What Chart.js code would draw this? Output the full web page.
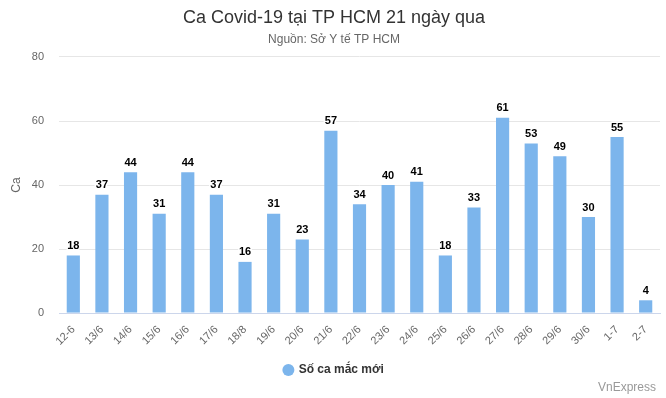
<!DOCTYPE html>
<html>
<head>
<meta charset="utf-8">
<script src="https://cdn.jsdelivr.net/npm/chart.js@4"></script>
<style>
  html, body { margin: 0; padding: 0; background: #fff; }
  #wrap { position: relative; width: 666px; height: 398px; }
  #credit { position: absolute; right: 10px; bottom: 4px; font: 12px "Liberation Sans", Arial, sans-serif; color: #999; }
</style>
</head>
<body>
<div id="wrap">
  <canvas id="caseChart" width="666" height="398"></canvas>
  <div id="credit">VnExpress</div>
</div>
<script>
const days = ['12-6', '13/6', '14/6', '15/6', '16/6', '17/6', '18/8', '19/6', '20/6', '21/6', '22/6',
              '23/6', '24/6', '25/6', '26/6', '27/6', '28/6', '29/6', '30/6', '1-7', '2-7'];
const newCases = [18, 37, 44, 31, 44, 37, 16, 31, 23, 57, 34, 40, 41, 18, 33, 61, 53, 49, 30, 55, 4];
const yTicks = [0, 20, 40, 60, 80];

const fontFamily = '"Liberation Sans", Arial, sans-serif';
Chart.defaults.font.family = fontFamily;
Chart.defaults.color = '#666';

// bold numbers on top of each bar
const barValues = {
    id: 'barValues',
    afterDatasetsDraw(chart) {
        const ctx = chart.ctx;
        const meta = chart.getDatasetMeta(0);
        ctx.save();
        ctx.font = 'bold 11px ' + fontFamily;
        ctx.textAlign = 'center';
        ctx.textBaseline = 'bottom';
        ctx.lineJoin = 'round';
        meta.data.forEach((bar, i) => {
            const v = chart.data.datasets[0].data[i];
            ctx.strokeStyle = '#fff';
            ctx.lineWidth = 3;
            ctx.strokeText(v, bar.x, bar.y - 4);
            ctx.fillStyle = '#000';
            ctx.fillText(v, bar.x, bar.y - 4);
        });
        ctx.restore();
    }
};

const caseCtx = document.getElementById('caseChart').getContext('2d');
const caseChart = new Chart(caseCtx, {
    type: 'bar',
    data: {
        labels: days,
        datasets: [{
            label: 'Số ca mắc mới',
            data: newCases,
            backgroundColor: '#7cb5ec',
            borderWidth: 0,
            barPercentage: 0.92,
            categoryPercentage: 0.5
        }]
    },
    options: {
        responsive: false,
        animation: false,
        layout: {
            padding: { left: 8, right: 6, top: 0, bottom: 12 }
        },
        scales: {
            y: {
                min: 0,
                max: 80,
                afterBuildTicks(axis) {
                    axis.ticks = yTicks.map(v => ({ value: v }));
                },
                afterFit(axis) {
                    axis.width = 51;
                },
                grid: { color: '#e6e6e6', drawTicks: false },
                border: { display: false },
                ticks: { color: '#666', font: { size: 11 }, padding: 15 },
                title: { display: true, text: 'Ca', color: '#666', font: { size: 12 }, padding: { top: 1, bottom: 2 } }
            },
            x: {
                grid: { display: false },
                border: { display: true, color: '#ccd6eb' },
                ticks: { color: '#666', font: { size: 11 }, minRotation: 45, maxRotation: 45, autoSkip: false, padding: 2 }
            }
        },
        plugins: {
            title: {
                display: true,
                text: 'Ca Covid-19 tại TP HCM 21 ngày qua',
                color: '#333',
                font: { size: 18, weight: 'normal' },
                padding: { top: 7, bottom: 4 }
            },
            subtitle: {
                display: true,
                text: 'Nguồn: Sở Y tế TP HCM',
                color: '#666',
                font: { size: 12 },
                padding: { top: 0, bottom: 10 }
            },
            legend: {
                position: 'bottom',
                labels: {
                    usePointStyle: true,
                    pointStyle: 'circle',
                    boxWidth: 8.5,
                    boxHeight: 8.5,
                    color: '#333',
                    font: { size: 12, weight: 'bold' },
                    padding: 14
                }
            },
            tooltip: { enabled: false }
        }
    },
    plugins: [barValues]
});
</script>
</body>
</html>
